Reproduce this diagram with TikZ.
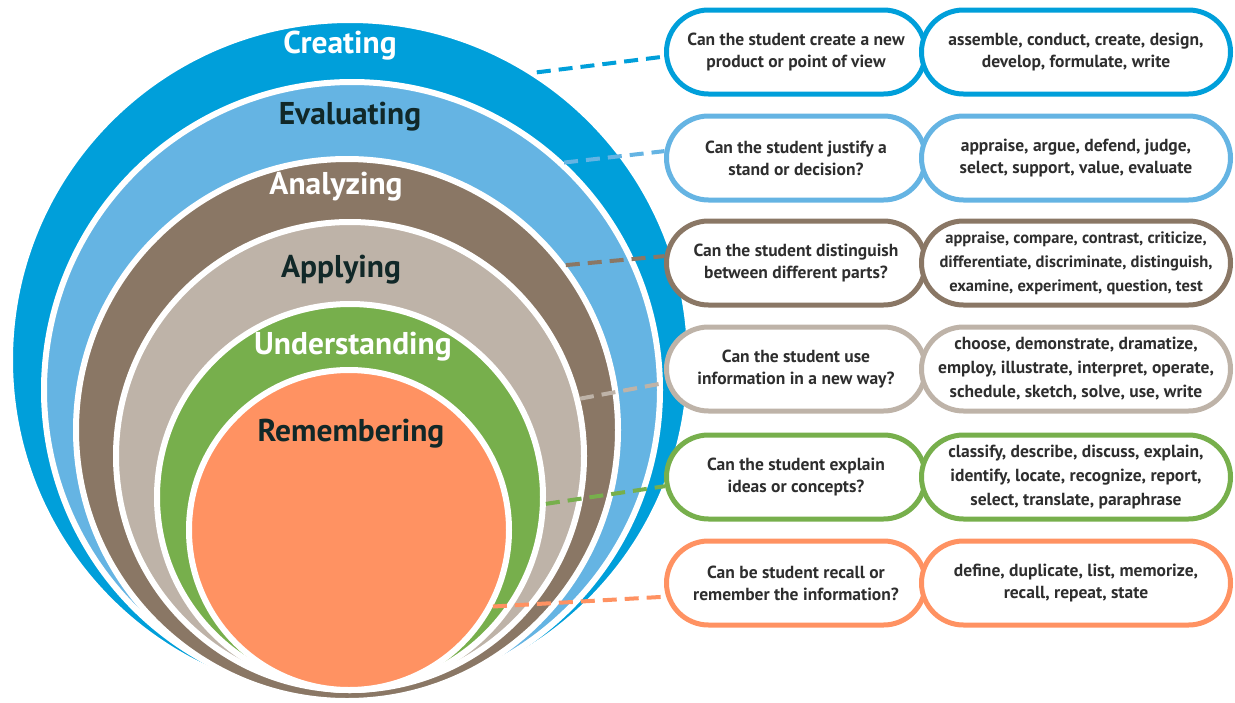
\documentclass[tikz,border=0pt]{standalone}
\usepackage{fontspec}
\setmainfont{PT Sans}
\usetikzlibrary{shapes.misc}
\definecolor{createblue}{HTML}{009FDA}
\definecolor{evalblue}{HTML}{65B4E3}
\definecolor{analbrown}{HTML}{8A7765}
\definecolor{applygray}{HTML}{BEB3A8}
\definecolor{undergreen}{HTML}{77AF4C}
\definecolor{rememorange}{HTML}{FF9262}
\definecolor{darkink}{HTML}{112828}
\definecolor{boxink}{HTML}{2E2E2E}
\tikzset{ring/.style = {circle, draw = white, line width = 6pt, inner sep = 0pt}}
\tikzset{level/.style = {font = \fontsize{31.5}{33}\selectfont\bfseries}}
\tikzset{ask/.style = {rounded rectangle, draw, fill = white, line width = 5pt,
                       minimum width = 259pt, minimum height = 84pt, inner sep = 0pt,
                       align = center, text = boxink,
                       font = \fontsize{17.5}{22}\selectfont\bfseries}}
\tikzset{verbs/.style = {ask, minimum width = 309pt}}
\tikzset{threeline/.style = {font = \fontsize{17.5}{24}\selectfont\bfseries}}
\tikzset{link/.style = {line width = 4pt, dash pattern = on 14pt off 8pt}}

\begin{document}
\begin{tikzpicture}[x = 1pt, y = -1pt]
  \useasboundingbox (0, 0) rectangle (1235, 702);

  % nested levels
  \node [ring, fill = createblue, minimum size = 680pt] (creating) at (350, 360) {};
  \node [ring, fill = evalblue, minimum size = 616pt] (evaluating) at (352, 390) {};
  \node [ring, fill = analbrown, minimum size = 542pt] (analyzing) at (347, 430) {};
  \node [ring, fill = applygray, minimum size = 468pt] (applying) at (350, 456) {};
  \node [ring, fill = undergreen, minimum size = 386pt] (understanding) at (350, 497) {};
  \node [ring, fill = rememorange, minimum size = 320pt] (remembering) at (349, 530) {};

  \node [level, text = white] (creatingname) at (340, 46) {Creating};
  \node [level, text = darkink] (evaluatingname) at (350, 117) {Evaluating};
  \node [level, text = white] (analyzingname) at (336, 187) {Analyzing};
  \node [level, text = darkink] (applyingname) at (341, 270) {Applying};
  \node [level, text = white] (understandingname) at (353, 347) {Understanding};
  \node [level, text = darkink] (rememberingname) at (351, 434) {Remembering};

  % questions and verbs
  \node [ask, draw = createblue] (qcreate) at (796, 52)
    {Can the student create a new\\product or point of view};
  \node [verbs, draw = createblue] (vcreate) at (1076, 52)
    {assemble, conduct, create, design,\\develop, formulate, write};
  \node [ask, draw = evalblue] (qevaluate) at (796, 158)
    {Can the student justify a\\stand or decision?};
  \node [verbs, draw = evalblue] (vevaluate) at (1076, 158)
    {appraise, argue, defend, judge,\\select, support, value, evaluate};
  \node [ask, draw = analbrown] (qanalyze) at (796, 263)
    {Can the student distinguish\\between different parts?};
  \node [verbs, draw = analbrown, threeline, font = \fontsize{16.5}{24}\selectfont\bfseries] (vanalyze) at (1076, 263)
    {appraise, compare, contrast, criticize,\\differentiate, discriminate, distinguish,\\examine, experiment, question, test};
  \node [ask, draw = applygray] (qapply) at (796, 369)
    {Can the student use\\information in a new way?};
  \node [verbs, draw = applygray, threeline] (vapply) at (1076, 369)
    {choose, demonstrate, dramatize,\\employ, illustrate, interpret, operate,\\schedule, sketch, solve, use, write};
  \node [ask, draw = undergreen] (qunderstand) at (796, 477)
    {Can the student explain\\ideas or concepts?};
  \node [verbs, draw = undergreen, threeline] (vunderstand) at (1076, 477)
    {classify, describe, discuss, explain,\\identify, locate, recognize, report,\\select, translate, paraphrase};
  \node [ask, draw = rememorange] (qremember) at (796, 583)
    {Can be student recall or\\remember the information?};
  \node [verbs, draw = rememorange] (vremember) at (1076, 583)
    {define, duplicate, list, memorize,\\recall, repeat, state};

  % dashed links
  \draw [link, createblue] (creating.57.6) -- (qcreate.182);
  \draw [link, evalblue] (evaluating.47.9) -- (qevaluate.177);
  \draw [link, analbrown] (analyzing.37) -- (qanalyze.177);
  \draw [link, applygray] (applying.14.2) -- (qapply.186);
  \draw [link, undergreen] (understanding.-2.4) -- (qunderstand.184);
  \draw [link, rememorange] (remembering.-28.6) -- (qremember.186);
\end{tikzpicture}
\end{document}
